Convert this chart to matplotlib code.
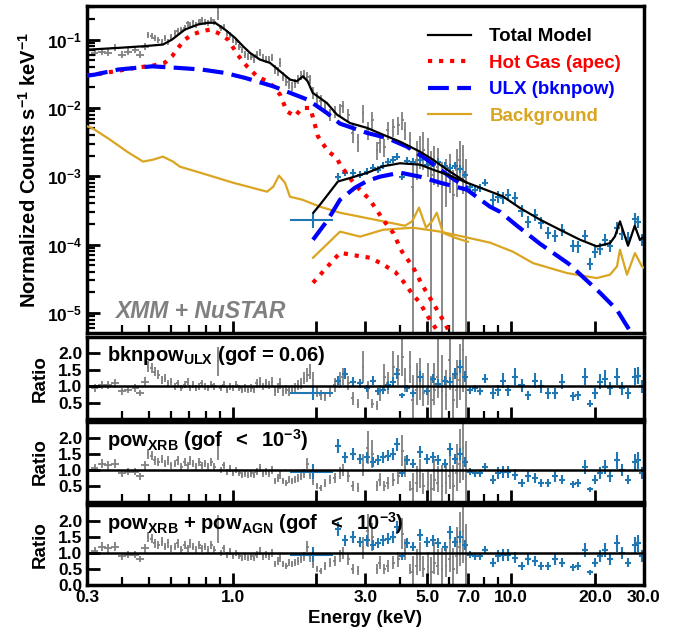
import numpy as np
import matplotlib.pyplot as plt
from matplotlib.ticker import FixedLocator, FixedFormatter, NullFormatter, LogLocator

plt.rcParams['font.family'] = ['Liberation Sans', 'DejaVu Sans']
plt.rcParams['font.weight'] = 'bold'
plt.rcParams['axes.labelweight'] = 'bold'
plt.rcParams['mathtext.fontset'] = 'custom'
plt.rcParams['mathtext.rm'] = 'Liberation Sans:bold'
plt.rcParams['mathtext.bf'] = 'Liberation Sans:bold'
plt.rcParams['mathtext.it'] = 'Liberation Sans:bold:italic'
plt.rcParams['mathtext.sf'] = 'Liberation Sans:bold'
plt.rcParams['mathtext.default'] = 'bf'
plt.rcParams['axes.linewidth'] = 2.5

# ---- XMM spectrum (grey points) ----
xmm_energy = [0.320, 0.340, 0.357, 0.378, 0.401, 0.421, 0.447, 0.465, 0.485,
              0.497, 0.513, 0.526, 0.540, 0.558, 0.572, 0.586, 0.601,
              0.621, 0.636, 0.654, 0.674, 0.689, 0.703, 0.721, 0.739, 0.758, 0.776, 0.796, 0.816, 0.837, 0.858,
              0.886,
              0.908, 0.931, 0.955, 0.979, 1.003, 1.029, 1.055, 1.081,
              1.108, 1.136, 1.165, 1.194, 1.223, 1.254, 1.286, 1.318, 1.351, 1.385,
              1.420, 1.456, 1.480, 1.517, 1.556, 1.594, 1.634, 1.675, 1.718, 1.761, 1.805, 1.851, 1.896,
              1.944, 2.010, 2.076, 2.147, 2.237, 2.330, 2.430, 2.490, 2.600,
              2.705, 2.820, 2.940, 3.060, 3.170, 3.300, 3.380, 3.500, 3.610, 3.770, 3.930, 4.060, 4.160, 4.335,
              4.440, 4.590, 4.710, 4.830, 5.030, 5.160, 5.290, 5.460, 5.650, 5.840, 6.030, 6.190, 6.390, 6.550, 6.720, 6.890]
xmm_counts = [0.0645, 0.0667, 0.0645, 0.0764, 0.0603, 0.0667, 0.0714, 0.0603, 0.079,
              0.118, 0.114, 0.107, 0.100, 0.0935, 0.107, 0.0935, 0.110,
              0.126, 0.135, 0.140, 0.150, 0.172, 0.166, 0.178, 0.166, 0.183, 0.196, 0.183, 0.178, 0.196, 0.183,
              0.257,
              0.150, 0.155, 0.126, 0.118, 0.100, 0.0935, 0.079, 0.0714,
              0.0603, 0.0564, 0.0564, 0.0509, 0.0603, 0.0645, 0.0545, 0.0509, 0.0509, 0.0545,
              0.0364, 0.034, 0.046, 0.0287, 0.0243, 0.0219, 0.0205, 0.0234, 0.026, 0.0297, 0.0307, 0.0287, 0.026,
              0.0168, 0.0141, 0.0128, 0.0101, 0.00798, 0.00882, 0.00944, 0.0105, 0.00798,
              0.00434, 0.00321, 0.00854, 0.00481, 0.00674, 0.00245, 0.0031, 0.00271, 0.00481, 0.00532, 0.00569,
              0.00674, 0.00481, 0.00343,
              7.0e-4, 0.00175, 0.00229, 0.00245, 0.00193, 0.00106, 0.00148, 0.00138, 7.0e-4, 8.9e-4, 0.00113,
              5.4e-4, 0.00125, 0.00175, 0.00138, 7.5e-4]
# fractional errors (lower / upper) and half bin widths
xmm_err_lo = ([0.12] * 9 + [0.10] * 22 + [0.25] + [0.10] * 8 + [0.12] * 10 + [0.15] * 13 + [0.20] * 9
              + [0.30] * 14 + [0.999, 0.5, 0.45, 0.5, 0.5, 0.999, 0.5, 0.5, 0.999, 0.6, 0.5, 0.999, 0.6, 0.5, 0.6, 0.999])
xmm_err_hi = ([0.12] * 9 + [0.10] * 22 + [0.25] + [0.10] * 8 + [0.12] * 10 + [0.15] * 13 + [0.20] * 9
              + [0.30] * 14 + [1.3, 0.9, 0.7, 0.8, 0.9, 1.2, 0.9, 0.9, 1.3, 1.0, 0.9, 1.3, 1.0, 0.9, 1.1, 1.4])
xmm_xfrac = [0.03] * 9 + [0.012] * 93

# ---- NuSTAR spectrum (blue points) ----
nu_energy = [1.94, 2.39, 2.53, 2.71, 2.87, 3.04, 3.19, 3.33, 3.47, 3.61, 3.77, 3.89, 4.06, 4.23, 4.44,
             4.71, 4.99, 5.24, 5.46, 5.79, 6.03, 6.29, 6.55, 6.83, 7.12, 7.42, 7.73, 8.06, 8.6, 8.97,
             9.35, 9.75, 10.3, 10.9, 11.5, 12.2, 12.8, 13.6, 14.4, 15.2, 16.7, 17.4, 18.4, 19.2, 20.0,
             20.85, 21.7, 22.65, 24.0, 25.0, 26.3, 27.8, 28.6, 29.5]
nu_counts = [2.32e-4, 9.86e-4, 1.13e-3, 1.13e-3, 1.06e-3, 1.17e-3, 1.34e-3, 1.25e-3, 1.43e-3, 1.64e-3,
             1.75e-3, 1.94e-3, 9.86e-4, 1.69e-3, 1.64e-3, 1.75e-3, 1.48e-3, 1.53e-3, 1.64e-3, 1.43e-3,
             1.34e-3, 1.43e-3, 1.29e-3, 1.06e-3, 7.05e-4, 6.37e-4, 6.8e-4, 8.06e-4, 4.54e-4, 5.02e-4,
             4.86e-4, 5.38e-4, 4.86e-4, 3.13e-4, 2.16e-4, 2.74e-4, 2.09e-4, 1.49e-4, 1.35e-4, 1.65e-4,
             9.64e-5, 9.5e-5, 1.35e-4, 5.25e-5, 7.87e-5, 8.7e-5, 1.18e-4, 9.6e-5, 1.77e-4, 1.45e-4,
             1.26e-4, 2.39e-4, 2.16e-4, 1.18e-4]
nu_err = [0.25] + [0.12] * 27 + [0.2] * 26
nu_xlo = [0.17] + [0.025] * 53
nu_xhi = [0.18] + [0.025] * 53

# ---- model curves ----
tot_xmm_e = [0.30, 0.388, 0.477, 0.562, 0.606, 0.674, 0.751, 0.816, 0.865, 0.939, 1.020, 1.090, 1.155,
             1.254, 1.362, 1.480, 1.607, 1.70, 1.79, 1.86, 1.94, 2.18, 2.37, 2.64, 3.04, 3.47, 3.99, 4.71,
             5.24, 5.89, 6.94]
tot_xmm = [0.071, 0.0755, 0.0798, 0.0845, 0.100, 0.140, 0.166, 0.176, 0.176, 0.140, 0.106, 0.0798, 0.0638,
           0.0509, 0.0456, 0.0344, 0.026, 0.0245, 0.029, 0.0245, 0.0166, 0.0118, 0.00798, 0.0060, 0.0051,
           0.00406, 0.00321, 0.00229, 0.00175, 0.00125, 0.000806]
tot_nu_e = [1.95, 2.06, 2.39, 2.64, 3.04, 3.47, 3.99, 4.71, 5.24, 5.89, 6.94, 8.40, 9.35, 10.76, 12.70,
            14.98, 17.68, 20.3, 22.65, 23.6, 24.6, 26.3, 27.8, 29.0, 30.0]
tot_nu = [2.93e-4, 3.84e-4, 8.4e-4, 9.44e-4, 1.12e-3, 1.40e-3, 1.55e-3, 1.48e-3, 1.25e-3, 1.06e-3, 8.06e-4,
          6.01e-4, 5.08e-4, 3.44e-4, 2.32e-4, 1.65e-4, 1.18e-4, 9.44e-5, 1.05e-4, 1.32e-4, 2.19e-4,
          9.64e-5, 1.89e-4, 1.18e-4, 1.30e-4]

gas_xmm_e = [0.30, 0.32, 0.378, 0.446, 0.526, 0.572, 0.606, 0.637, 0.674, 0.715, 0.776, 0.830, 0.886,
             0.963, 1.046, 1.126, 1.223, 1.329, 1.40, 1.48, 1.567, 1.675, 1.775, 1.90, 1.944, 2.025, 2.20,
             2.37, 2.43, 2.75, 3.11, 3.47, 3.77, 4.06, 4.44, 4.79, 5.24, 5.69, 6.03]
gas_xmm = [0.030, 0.0307, 0.0344, 0.0385, 0.0421, 0.046, 0.0569, 0.0755, 0.100, 0.118, 0.1324, 0.140,
           0.125, 0.100, 0.0589, 0.0406, 0.029, 0.0245, 0.0207, 0.0157, 0.00891, 0.00754, 0.00999,
           0.00999, 0.00721, 0.00384, 0.00232, 0.00185, 0.00148, 7.53e-4, 4.54e-4, 2.32e-4, 1.49e-4,
           7.87e-5, 4.74e-5, 2.59e-5, 1.41e-5, 7.95e-6, 5.13e-6]
gas_nu_e = [1.944, 2.43, 2.80, 3.11, 3.38, 3.83, 4.06, 4.44, 4.71, 4.91, 5.11, 5.41, 5.56]
gas_nu = [2.77e-5, 7.6e-5, 6.88e-5, 6.44e-5, 5.44e-5, 4.01e-5, 3.06e-5, 1.85e-5, 1.41e-5, 1.04e-5,
          7.95e-6, 5.68e-6, 4.9e-6]

ulx_xmm_e = [0.30, 0.32, 0.388, 0.514, 0.637, 0.776, 0.939, 1.108, 1.40, 1.86, 2.18, 2.43, 3.04, 3.58,
             4.23, 4.99, 6.03, 6.94]
ulx_xmm = [0.0296, 0.0307, 0.0364, 0.0406, 0.0385, 0.0364, 0.0325, 0.0275, 0.0207, 0.0132, 0.00845,
           0.00589, 0.00431, 0.00364, 0.00271, 0.00175, 9.86e-4, 6.8e-4]
ulx_nu_e = [1.944, 2.20, 2.43, 2.75, 3.04, 3.38, 3.99, 4.71, 5.56, 6.94, 8.40, 9.12, 10.5, 12.7, 16.1,
            20.85, 24.0, 26.7, 29.0]
ulx_nu = [1.18e-4, 2.32e-4, 4.54e-4, 6.8e-4, 8.53e-4, 9.86e-4, 1.13e-3, 9.86e-4, 8.06e-4, 6.37e-4,
          3.59e-4, 3.03e-4, 1.89e-4, 1.03e-4, 5.25e-5, 1.98e-5, 1.11e-5, 5.5e-6, 3.6e-6]

bkg_xmm_e = [0.30, 0.315, 0.363, 0.418, 0.477, 0.518, 0.562, 0.611, 0.647, 0.764, 1.003, 1.33, 1.40,
             1.467, 1.542, 1.607, 1.78, 2.06, 2.43, 3.38, 4.16, 4.41, 4.67, 4.95, 5.20, 5.41, 5.69, 6.29, 7.0]
bkg_xmm = [5.4e-3, 5.0e-3, 3.43e-3, 2.29e-3, 1.64e-3, 1.75e-3, 1.94e-3, 1.64e-3, 1.38e-3, 1.13e-3,
           8.06e-4, 5.95e-4, 7.05e-4, 1.02e-3, 8.06e-4, 5.02e-4, 4.54e-4, 3.59e-4, 2.93e-4, 2.24e-4,
           1.89e-4, 2.19e-4, 3.47e-4, 1.77e-4, 2.19e-4, 2.93e-4, 1.49e-4, 1.26e-4, 1.1e-4]
bkg_nu_e = [1.944, 2.43, 2.87, 3.47, 4.44, 5.56, 6.72, 8.40, 10.16, 11.99, 15.87, 20.3, 22.65, 24.0,
            24.6, 26.07, 27.85, 29.5, 30.0]
bkg_nu = [6.43e-5, 1.55e-4, 1.31e-4, 1.65e-4, 1.77e-4, 1.55e-4, 1.31e-4, 1.07e-4, 7.87e-5, 5.37e-5,
          3.84e-5, 3.24e-5, 3.63e-5, 4.8e-5, 8.42e-5, 3.63e-5, 7.53e-5, 4.8e-5, 4.6e-5]

# ---- data / model ratios ----
ratio_ulx_xmm = [0.95, 1.05, 1.05, 1.1, 0.85, 0.9, 0.95, 0.8, 1.15,
                 1.6, 1.55, 1.45, 1.35, 1.2, 1.25, 1.1, 1.15,
                 1.0, 1.1, 0.95, 1.05, 1.15, 0.95, 1.05, 0.95, 1.0, 1.1, 1.0, 0.95, 1.05, 1.0,
                 1.76,
                 0.95, 1.05, 0.9, 1.0, 0.95, 1.05, 0.95, 0.9,
                 0.95, 0.9, 0.95, 0.9, 1.1, 1.15, 1.0, 1.1, 1.05, 1.15,
                 0.85, 0.95, 1.1, 0.85, 0.9, 0.85, 0.9, 0.95, 1.05, 1.1, 1.25, 1.35, 1.45,
                 1.2, 0.85, 0.75, 0.7, 0.85, 1.05, 1.2, 1.3, 1.1,
                 0.64, 0.48, 1.6, 0.9, 0.48, 0.42, 0.8, 1.3, 1.1, 1.6, 1.5, 1.9, 1.2, 1.6,
                 0.58, 0.9, 1.1, 0.79, 0.9, 0.6, 0.9, 1.3, 0.85, 0.75, 1.79, 0.6, 0.9, 1.2, 2.1, 0.8]
ratio_ulx_nu = [0.79, 1.18, 1.39, 1.15, 1.1, 0.94, 1.18, 0.85, 0.88, 1.03, 1.15, 1.39, 0.73, 0.94, 0.79,
                1.3, 0.85, 1.24, 1.09, 1.18, 1.15, 1.39, 1.6, 1.3, 0.88, 0.94, 0.85, 1.24, 0.79, 0.88,
                1.18, 0.88, 1.3, 1.03, 0.73, 1.18, 1.0, 0.79, 0.79, 1.15, 0.70, 0.73, 1.3, 0.48, 0.79,
                1.15, 1.24, 0.94, 1.3, 0.94, 0.79, 1.3, 1.33, 1.0]
ratio_xrb_xmm = [1.05, 1.2, 1.15, 1.2, 0.9, 0.95, 0.95, 0.8, 1.15,
                 1.5, 1.45, 1.3, 1.25, 1.35, 1.2, 1.3, 1.15,
                 1.2, 1.3, 1.1, 1.25, 1.15, 1.3, 1.2, 1.1, 1.25, 1.15, 1.2, 1.1, 1.25, 1.1,
                 1.75,
                 1.0, 1.15, 0.95, 1.05, 0.9, 1.0, 0.9, 0.85,
                 0.9, 0.85, 0.9, 0.85, 0.95, 1.05, 0.9, 0.95, 0.9, 1.0,
                 0.65, 0.75, 0.85, 0.65, 0.6, 0.7, 0.65, 0.7, 0.75, 0.8, 0.9, 1.2, 0.85,
                 0.65, 0.5, 0.45, 0.6, 0.7, 0.75, 0.9, 1.0, 0.8,
                 0.5, 0.45, 1.15, 1.7, 1.5, 0.5, 0.7, 0.5, 0.6, 0.7, 0.8, 1.6, 1.1, 0.5,
                 0.4, 0.6, 0.8, 0.5, 0.55, 0.4, 0.7, 0.6, 0.5, 0.6, 0.8, 0.5, 0.9, 1.2, 1.7, 0.8]
ratio_xrb_nu = [0.95, 1.75, 1.4, 1.5, 1.35, 1.4, 1.25, 1.3, 1.4, 1.45, 1.5, 1.8, 0.9, 1.3, 1.2,
                1.55, 1.35, 1.4, 1.3, 1.2, 1.65, 1.35, 1.5, 1.25, 0.95, 0.9, 0.9, 1.1, 0.7, 0.9,
                0.95, 0.95, 0.85, 0.6, 0.8, 0.75, 0.6, 0.6, 0.8, 0.7, 0.55, 0.6, 1.1, 0.4, 0.7,
                0.9, 1.1, 0.8, 1.3, 1.0, 0.7, 1.25, 1.3, 0.9]
# third fit is indistinguishable from the second one in the figure
ratio_agn_xmm = list(ratio_xrb_xmm)
ratio_agn_nu = list(ratio_xrb_nu)

GREY = '#808080'
BLUE = '#1f77b4'

xe = np.array(xmm_energy)
xc = np.array(xmm_counts)
xlo = np.array(xmm_err_lo)
xhi = np.array(xmm_err_hi)
xxf = np.array(xmm_xfrac)
ne = np.array(nu_energy)
nc = np.array(nu_counts)
nerr = np.array(nu_err)
nxl = np.array(nu_xlo)
nxh = np.array(nu_xhi)

fig = plt.figure(figsize=(6.78, 6.35), dpi=100)
ax = fig.add_axes([0.1283, 0.4756, 0.8215, 0.5150])
r1 = fig.add_axes([0.1283, 0.3394, 0.8215, 0.1299])
r2 = fig.add_axes([0.1283, 0.2094, 0.8215, 0.1260])
r3 = fig.add_axes([0.1283, 0.0787, 0.8215, 0.1260])

# main panel
ax.errorbar(xe, xc, xerr=[xe * xxf, xe * xxf], yerr=[xc * xlo, xc * xhi], fmt='none',
            ecolor=GREY, elinewidth=1.3, zorder=1)
ax.errorbar(ne, nc, xerr=[ne * nxl, ne * nxh], yerr=[nc * nerr, nc * nerr], fmt='none',
            ecolor=BLUE, elinewidth=1.5, zorder=2)

ax.plot(tot_xmm_e, tot_xmm, color='k', lw=1.6, zorder=5, label='Total Model')
ax.plot(tot_nu_e, tot_nu, color='k', lw=1.6, zorder=5)
ax.plot(gas_xmm_e, gas_xmm, color='red', lw=3, ls=':', zorder=4, label='Hot Gas (apec)')
ax.plot(gas_nu_e, gas_nu, color='red', lw=3, ls=':', zorder=4)
ax.plot(ulx_xmm_e, ulx_xmm, color='blue', lw=3, dashes=(5, 2), zorder=4, label='ULX (bknpow)')
ax.plot(ulx_nu_e, ulx_nu, color='blue', lw=3, dashes=(5, 2), zorder=4)
ax.plot(bkg_xmm_e, bkg_xmm, color='goldenrod', lw=1.6, zorder=3, label='Background')
ax.plot(bkg_nu_e, bkg_nu, color='goldenrod', lw=1.6, zorder=3)

ax.set_xscale('log')
ax.set_yscale('log')
ax.set_xlim(0.3, 30)
ax.set_ylim(5.1e-6, 0.31)
ax.yaxis.set_major_locator(LogLocator(base=10, numticks=10))
ax.yaxis.set_minor_locator(LogLocator(base=10, subs=np.arange(2, 10), numticks=20))
ax.yaxis.set_minor_formatter(NullFormatter())
ax.set_ylabel(r'Normalized Counts s$^{-1}$ keV$^{-1}$', fontsize=14.5)
ax.yaxis.set_label_coords(-0.085, 0.5)

leg = ax.legend(loc='upper left', bbox_to_anchor=(0.598, 0.955), frameon=False, fontsize=13.5,
                handlelength=2.3, handletextpad=1.0, borderaxespad=0, labelspacing=0.5)
for txt, col in zip(leg.get_texts(), ['k', 'red', 'blue', 'goldenrod']):
    txt.set_color(col)

ax.text(0.05, 0.067, 'XMM + NuSTAR', transform=ax.transAxes, fontsize=16.5, color=GREY,
        fontstyle='italic', fontweight='bold', ha='left', va='center')

# ratio panels
panels = [(r1, ratio_ulx_xmm, ratio_ulx_nu, r'bknpow$_{\mathbf{ULX}}$ (gof = 0.06)'),
          (r2, ratio_xrb_xmm, ratio_xrb_nu, r'pow$_{\mathbf{XRB}}$ (gof $\;<\;$ $10^{-3}$)'),
          (r3, ratio_agn_xmm, ratio_agn_nu,
           r'pow$_{\mathbf{XRB}}$ + pow$_{\mathbf{AGN}}$ (gof $\;<\;$ $10^{-3}$)')]
for rax, rx, rn, lab in panels:
    rx = np.array(rx)
    rn = np.array(rn)
    rax.errorbar(xe, rx, xerr=[xe * xxf, xe * xxf], yerr=[rx * xlo, rx * xhi], fmt='none',
                 ecolor=GREY, elinewidth=1.3, zorder=1)
    rax.errorbar(ne, rn, xerr=[ne * nxl, ne * nxh], yerr=[rn * nerr, rn * nerr], fmt='none',
                 ecolor=BLUE, elinewidth=1.5, zorder=2)
    rax.axhline(1.0, color='k', lw=1.8, zorder=5)
    rax.set_xscale('log')
    rax.set_xlim(0.3, 30)
    rax.set_ylim(0, 2.5)
    rax.set_yticks([0.5, 1.0, 1.5, 2.0])
    rax.yaxis.set_major_formatter(FixedFormatter(['0.5', '1.0', '1.5', '2.0']))
    rax.set_ylabel('Ratio', fontsize=13.5)
    rax.yaxis.set_label_coords(-0.068, 0.5)
    rax.text(0.036, 0.78, lab, transform=rax.transAxes, fontsize=14.5, ha='left', va='center')

r3.set_yticks([0.0, 0.5, 1.0, 1.5, 2.0])
r3.yaxis.set_major_formatter(FixedFormatter(['0.0', '0.5', '1.0', '1.5', '2.0']))

major_x = [0.3, 1.0, 2.0, 3.0, 5.0, 7.0, 10.0, 20.0, 30.0]
major_lab = ['0.3', '1.0', '', '3.0', '5.0', '7.0', '10.0', '20.0', '30.0']
minor_x = [0.4, 0.5, 0.6, 0.7, 0.8, 0.9, 4.0, 6.0, 8.0, 9.0]
for a in [ax, r1, r2, r3]:
    a.xaxis.set_major_locator(FixedLocator(major_x))
    a.xaxis.set_minor_locator(FixedLocator(minor_x))
    a.xaxis.set_minor_formatter(NullFormatter())
    a.xaxis.set_major_formatter(NullFormatter())
    a.tick_params(which='major', direction='in', length=9, width=2, labelsize=12.5,
                  top=False, right=False)
    a.tick_params(which='minor', direction='in', length=5.5, width=1.6, top=False, right=False)
r3.xaxis.set_major_formatter(FixedFormatter(major_lab))
r3.set_xlabel('Energy (keV)', fontsize=13.5)

fig.savefig('out.png', dpi=100)
